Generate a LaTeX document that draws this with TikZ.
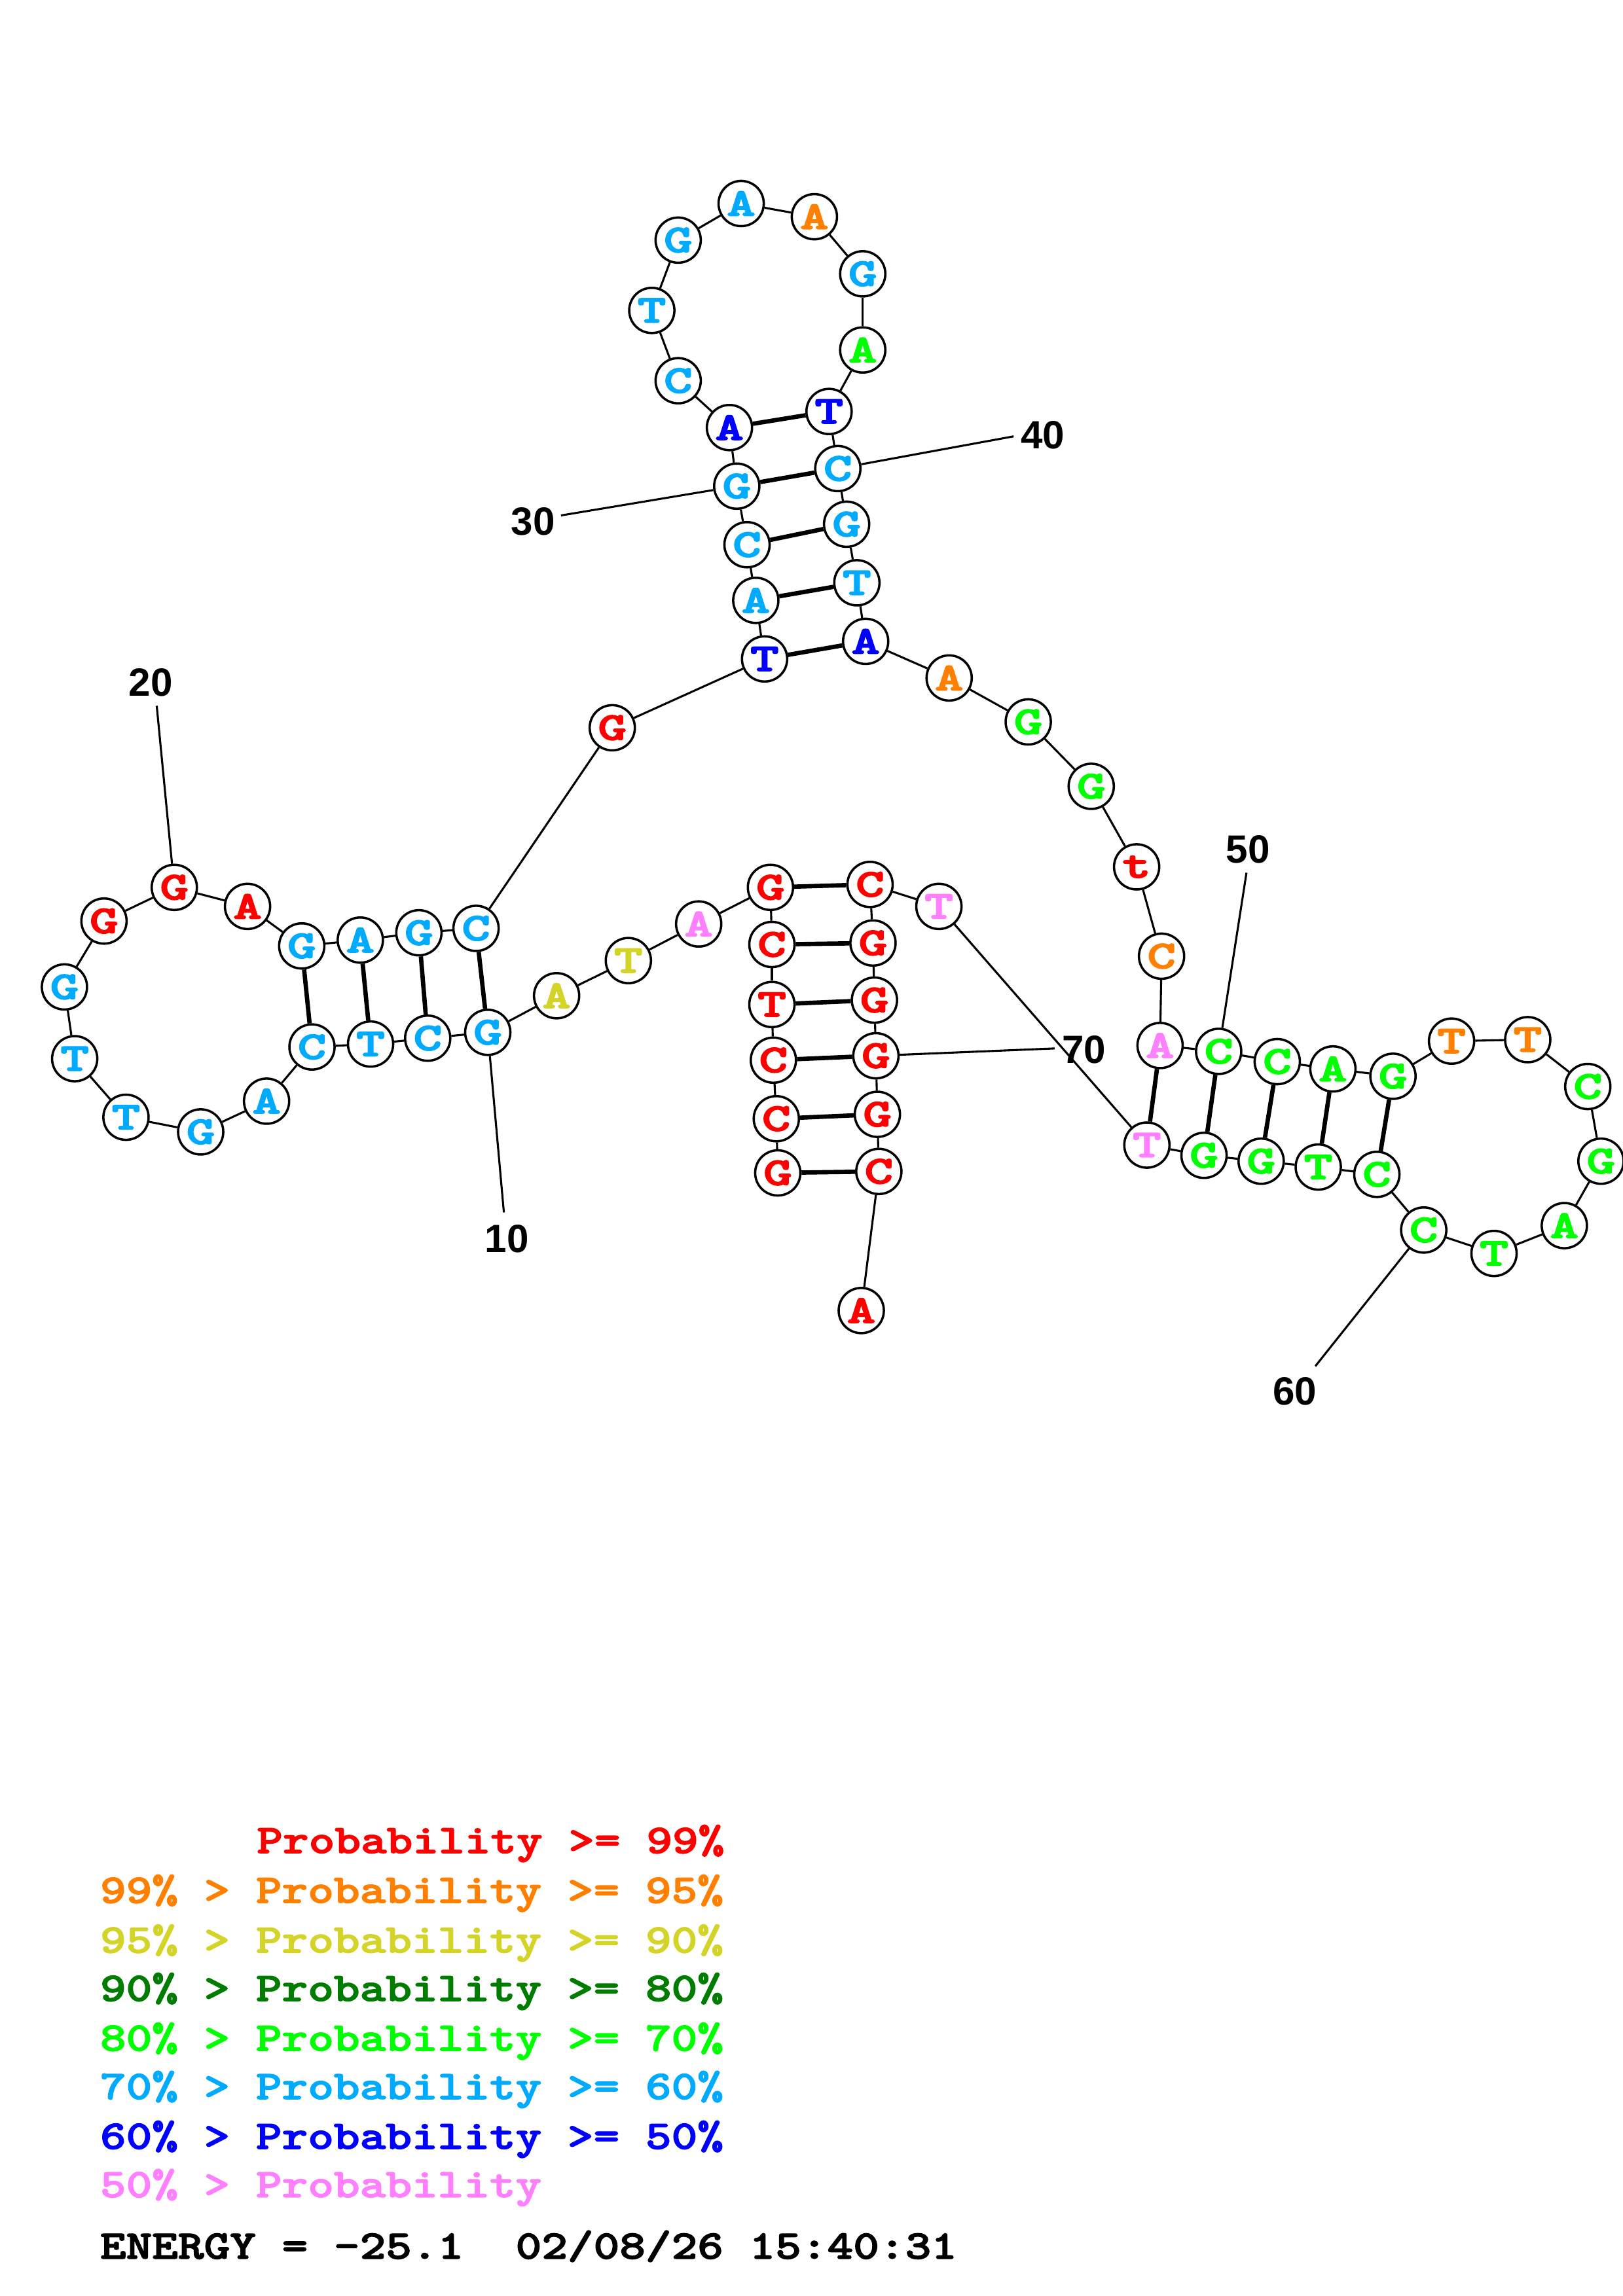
\documentclass[tikz,border=0pt]{standalone}
\usepackage{fontspec}
\usepackage{graphicx}
\setmainfont{Liberation Sans}
\newfontfamily\cbfont{lmmonolt10-bold.otf}[FakeBold=2]
\newfontfamily\cbnfont{lmmonolt10-bold.otf}[FakeBold=2.5]
\definecolor{cR}{RGB}{255,0,0}
\definecolor{cO}{RGB}{255,128,0}
\definecolor{cY}{RGB}{212,212,40}
\definecolor{cD}{RGB}{0,125,0}
\definecolor{cG}{RGB}{0,255,0}
\definecolor{cC}{RGB}{0,170,255}
\definecolor{cB}{RGB}{0,0,255}
\definecolor{cP}{RGB}{255,128,255}
\tikzset{
  nt/.style={circle, draw=black, line width=0.85pt, fill=white, minimum size=0.585cm, inner sep=0pt,
    font=\cbnfont\fontsize{14.5}{14.5}\selectfont},
  bb/.style={line width=0.75pt, draw=black},
  bond/.style={line width=1.6pt, draw=black},
  lab/.style={font=\bfseries\fontsize{14.5}{14.5}\selectfont, inner sep=0pt},
  leg/.style={anchor=base west, inner sep=0pt, font=\cbfont\fontsize{15}{15}\selectfont}
}
\newcommand\NT[5]{\node[nt,text=#5] (n#1) at (#2,#3) {\scalebox{1.38}[1]{#4}};}
\begin{document}
\begin{tikzpicture}[x=0.018953cm, y=-0.018953cm]
\fill[white] (0,0) rectangle (1108,1568);
\useasboundingbox (0,0) rectangle (1108,1568);
\NT{1}{531}{801}{G}{cR}
\NT{2}{530}{764}{C}{cR}
\NT{3}{528}{724}{C}{cR}
\NT{4}{527}{686}{T}{cR}
\NT{5}{527}{645}{C}{cR}
\NT{6}{526}{606}{G}{cR}
\NT{7}{477}{631}{A}{cP}
\NT{8}{429}{656}{T}{cY}
\NT{9}{380}{680}{A}{cY}
\NT{10}{333}{705}{G}{cC}
\NT{11}{292}{709}{C}{cC}
\NT{12}{253}{713}{T}{cC}
\NT{13}{213}{715}{C}{cC}
\NT{14}{182}{752}{A}{cC}
\NT{15}{137}{773}{G}{cC}
\NT{16}{86}{763}{T}{cC}
\NT{17}{51}{723}{T}{cC}
\NT{18}{44}{674}{G}{cC}
\NT{19}{71}{629}{G}{cR}
\NT{20}{119}{606}{G}{cR}
\NT{21}{169}{619}{A}{cR}
\NT{22}{206}{646}{G}{cC}
\NT{23}{246}{642}{A}{cC}
\NT{24}{286}{637}{G}{cC}
\NT{25}{325}{634}{C}{cC}
\NT{26}{418}{497}{G}{cR}
\NT{27}{522}{450}{T}{cB}
\NT{28}{516}{410}{A}{cC}
\NT{29}{510}{372}{C}{cC}
\NT{30}{503}{332}{G}{cC}
\NT{31}{498}{292}{A}{cB}
\NT{32}{463}{260}{C}{cC}
\NT{33}{445}{212}{T}{cC}
\NT{34}{463}{164}{G}{cC}
\NT{35}{506}{139}{A}{cC}
\NT{36}{556}{148}{A}{cO}
\NT{37}{589}{187}{G}{cC}
\NT{38}{589}{239}{A}{cG}
\NT{39}{566}{281}{T}{cB}
\NT{40}{572}{320}{C}{cC}
\NT{41}{578}{358}{G}{cC}
\NT{42}{585}{398}{T}{cC}
\NT{43}{591}{438}{A}{cB}
\NT{44}{648}{463}{A}{cO}
\NT{45}{702}{493}{G}{cG}
\NT{46}{745}{537}{G}{cG}
\NT{47}{776}{592}{t}{cR}
\NT{48}{793}{653}{C}{cO}
\NT{49}{792}{714}{A}{cP}
\NT{50}{832}{718}{C}{cG}
\NT{51}{872}{725}{C}{cG}
\NT{52}{910}{730}{A}{cG}
\NT{53}{951}{735}{G}{cG}
\NT{54}{991}{711}{T}{cO}
\NT{55}{1043}{710}{T}{cO}
\NT{56}{1084}{742}{C}{cG}
\NT{57}{1093}{793}{G}{cG}
\NT{58}{1068}{837}{A}{cG}
\NT{59}{1020}{856}{T}{cG}
\NT{60}{972}{840}{C}{cG}
\NT{61}{940}{802}{C}{cG}
\NT{62}{900}{797}{T}{cG}
\NT{63}{861}{793}{G}{cG}
\NT{64}{822}{789}{G}{cG}
\NT{65}{783}{782}{T}{cP}
\NT{66}{641}{619}{T}{cP}
\NT{67}{594}{604}{C}{cR}
\NT{68}{596}{644}{G}{cR}
\NT{69}{597}{683}{G}{cR}
\NT{70}{598}{721}{G}{cR}
\NT{71}{599}{761}{G}{cR}
\NT{72}{600}{800}{C}{cR}
\NT{73}{588}{895}{A}{cR}
% backbone
\foreach \i in {1,...,72}{
  \pgfmathtruncatemacro\j{\i+1}
  \draw[bb] (n\i) -- (n\j);
}
% pairs
\foreach \a/\b in {1/72,2/71,3/70,4/69,5/68,6/67,10/25,11/24,12/23,13/22,27/43,28/42,29/41,30/40,31/39,49/65,50/64,51/63,52/62,53/61}
  \draw[bond] (n\a) -- (n\b);
% numbering
\coordinate (e10) at (344,828);
\coordinate (e20) at (107,482);
\coordinate (e30) at (383,352);
\coordinate (e40) at (692,298);
\coordinate (e50) at (851,596);
\coordinate (e60) at (898,933);
\coordinate (e70) at (720,716);
\foreach \k in {10,20,30,40,50,60,70} \draw[bb] (n\k) -- (e\k);
\node[lab] (t10) at (346,846) {10};
\node[lab] (t20) at (103,466) {20};
\node[lab] (t30) at (364,356) {30};
\node[lab] (t40) at (712,297) {40};
\node[lab] (t50) at (852,580) {50};
\node[lab] (t60) at (884,950) {60};
\node[lab] (t70) at (740,717) {70};
% legend
\node[leg,text=cR] (L1) at (175,1265.5) {\scalebox{1.214}[1]{Probability >= 99\%}};
\node[leg,text=cO] (L2) at (68,1299.5) {\scalebox{1.214}[1]{99\% > Probability >= 95\%}};
\node[leg,text=cY] (L3) at (68,1333.5) {\scalebox{1.214}[1]{95\% > Probability >= 90\%}};
\node[leg,text=cD] (L4) at (68,1366.5) {\scalebox{1.214}[1]{90\% > Probability >= 80\%}};
\node[leg,text=cG] (L5) at (68,1400.5) {\scalebox{1.214}[1]{80\% > Probability >= 70\%}};
\node[leg,text=cC] (L6) at (68,1433.5) {\scalebox{1.214}[1]{70\% > Probability >= 60\%}};
\node[leg,text=cB] (L7) at (68,1467.5) {\scalebox{1.214}[1]{60\% > Probability >= 50\%}};
\node[leg,text=cP] (L8) at (68,1500.5) {\scalebox{1.214}[1]{50\% > Probability}};
\node[leg,text=black] (L9) at (68,1542.5) {\scalebox{1.214}[1]{ENERGY = -25.1\ \ 02/08/26 15:40:31}};
\end{tikzpicture}
\end{document}
